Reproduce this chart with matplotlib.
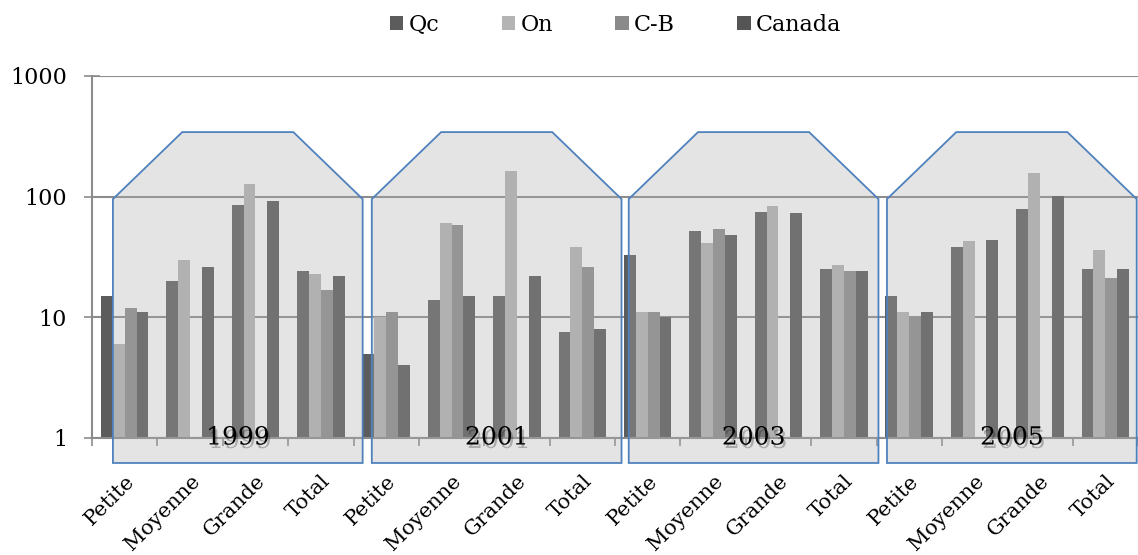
import matplotlib
matplotlib.use("Agg")
import numpy as np
import matplotlib.pyplot as plt
import matplotlib.transforms as mtransforms
import matplotlib.patheffects as pe
from matplotlib.patches import Patch, Polygon

# categories
years = ["1999", "2001", "2003", "2005"]
sizes = ["Petite", "Moyenne", "Grande", "Total"]
categories = [s for y in years for s in sizes]

# values per series (nan = no bar)
nan = np.nan
qc = [15, 20, 85, 24,
      5, 14, 15, 7.5,
      33, 52, 75, 25,
      15, 38, 79, 25]
on = [6, 30, 127, 23,
      10, 60, 164, 38,
      11, 41, 84, 27,
      11, 43, 157, 36]
cb = [12, nan, nan, 17,
      11, 58, nan, 26,
      11, 54, nan, 24,
      10, nan, nan, 21]
canada = [11, 26, 92, 22,
          4, 15, 22, 8,
          10, 48, 73, 24,
          11, 44, 101, 25]

series = {"Qc": qc, "On": on, "C-B": cb, "Canada": canada}
colors = {"Qc": "#5c5c5c", "On": "#b4b4b4", "C-B": "#8a8a8a", "Canada": "#555555"}

plt.rcParams["font.family"] = ["DejaVu Serif"]

fig = plt.figure(figsize=(11.38, 5.55), dpi=100)
ax = fig.add_axes([92 / 1138, 1 - 438 / 555, 1 - 92 / 1138, (438 - 76) / 555])

x = np.arange(len(categories))
n = len(series)
bw = 1 / (n + 1.5)
for i, (name, vals) in enumerate(series.items()):
    ax.bar(x + (i - (n - 1) / 2) * bw, vals, width=bw, color=colors[name],
           label=name, zorder=2)

ax.set_yscale("log")
ax.set_ylim(1, 1000)
ax.set_xlim(-0.5, len(categories) - 0.5)
ax.set_yticks([1, 10, 100, 1000])
ax.set_yticklabels(["1", "10", "100", "1000"])
ax.yaxis.set_minor_locator(matplotlib.ticker.NullLocator())
ax.tick_params(axis="y", which="major", direction="inout", length=12,
               width=1.2, color="#8c8c8c", labelsize=16, pad=12)
ax.grid(axis="y", color="#8c8c8c", linewidth=1.5, zorder=1)
ax.set_axisbelow(True)

ax.set_xticks(np.arange(-0.5, len(categories), 1.0))
ax.set_xticklabels([])
ax.set_xticks(x, minor=True)
ax.set_xticklabels(categories, minor=True, rotation=45, ha="right", va="top",
                   rotation_mode="anchor", fontsize=15)
ax.tick_params(axis="x", which="major", direction="out", length=6,
               width=1.2, color="#8c8c8c")
ax.tick_params(axis="x", which="minor", length=0, pad=24)

for side in ["top", "right"]:
    ax.spines[side].set_visible(False)
for side in ["left", "bottom"]:
    ax.spines[side].set_color("#8c8c8c")
    ax.spines[side].set_linewidth(1.5)

# overlay shapes for each year (x in data, y in axes fraction)
shape_left = [-0.18, 3.78, 7.71, 11.66]
shape_w = 3.82
chamfer = 1.06
y_top, y_shoulder, y_bottom = 0.845, 0.66, -0.069
trans = mtransforms.blended_transform_factory(ax.transData, ax.transAxes)
for left, yr in zip(shape_left, years):
    right = left + shape_w
    pts = [(left, y_bottom), (left, y_shoulder), (left + chamfer, y_top),
           (right - chamfer, y_top), (right, y_shoulder), (right, y_bottom)]
    poly = Polygon(pts, closed=True, transform=trans, clip_on=False,
                   facecolor=(0.68, 0.68, 0.68, 0.32), edgecolor="#4f81bd",
                   linewidth=1.3, zorder=3)
    ax.add_patch(poly)
    ax.text((left + right) / 2, 0.0, yr, transform=trans, ha="center",
            va="center", fontsize=18, zorder=4, clip_on=False,
            path_effects=[pe.SimplePatchShadow(offset=(1.5, -2.5), alpha=0.25),
                          pe.Normal()])

handles = [Patch(facecolor=colors[k], label=k) for k in series]
fig.legend(handles=handles, loc="center", bbox_to_anchor=(0.541, 0.955),
           ncol=4, frameon=False, fontsize=16, handlelength=0.6,
           handleheight=0.6, handletextpad=0.25, columnspacing=2.8)

fig.savefig("out.png", dpi=100)
